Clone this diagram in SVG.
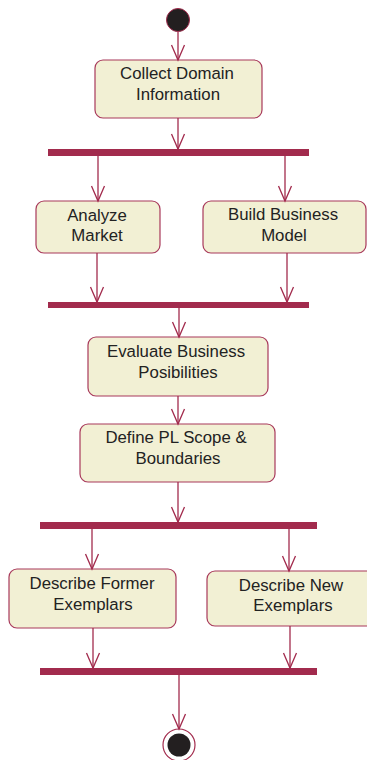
<svg xmlns="http://www.w3.org/2000/svg" width="367" height="760" viewBox="0 0 367 760">
<style>
.node rect{fill:#F2F0D4;stroke:#A8395B;stroke-width:1.2}
.node text{font-family:"Liberation Sans",Arial,sans-serif;font-size:16.8px;fill:#222;text-anchor:middle}
.bar{fill:#A22B4D}
.edge{stroke:#A22B4D;stroke-width:1.3;fill:none}
</style>
<defs>
<marker id="arr" markerUnits="userSpaceOnUse" markerWidth="18" markerHeight="16" refX="16" refY="7" orient="auto" viewBox="0 0 18 14">
<path d="M1,0.5 L16,7 L1,13.5" fill="none" stroke="#A22B4D" stroke-width="1.3"/>
</marker>
</defs>
<rect width="367" height="760" fill="#fff"/>
<g id="start"><circle cx="178" cy="20" r="11.5" fill="#231F20" stroke="#A22B4D" stroke-width="1"/></g>
<g id="collect" class="node"><rect x="95" y="60" width="167" height="58" rx="8"/><text x="177" y="79">Collect Domain</text><text x="178" y="100">Information</text></g>
<g id="fork1"><rect class="bar" x="48" y="149" width="261" height="7"/></g>
<g id="analyze" class="node"><rect x="36" y="201" width="124" height="52" rx="8"/><text x="97" y="221">Analyze</text><text x="97" y="241">Market</text></g>
<g id="build" class="node"><rect x="203" y="201" width="163" height="52" rx="8"/><text x="283" y="220">Build Business</text><text x="284" y="241">Model</text></g>
<g id="join1"><rect class="bar" x="48" y="302" width="261" height="6"/></g>
<g id="evaluate" class="node"><rect x="88" y="337" width="180" height="59" rx="8"/><text x="176" y="357">Evaluate Business</text><text x="178" y="378">Posibilities</text></g>
<g id="define" class="node"><rect x="80" y="424" width="195" height="58" rx="8"/><text x="176" y="443">Define PL Scope &amp;</text><text x="178" y="464">Boundaries</text></g>
<g id="fork2"><rect class="bar" x="40" y="522" width="277" height="7"/></g>
<g id="former" class="node"><rect x="9" y="569" width="167" height="59" rx="8"/><text x="92" y="589">Describe Former</text><text x="93" y="610">Exemplars</text></g>
<g id="new" class="node"><rect x="207" y="571" width="170" height="55" rx="8"/><text x="291" y="591">Describe New</text><text x="293" y="611">Exemplars</text></g>
<g id="join2"><rect class="bar" x="40" y="668" width="277" height="7"/></g>
<g id="end"><circle cx="179" cy="745" r="16" fill="#fff" stroke="#A22B4D" stroke-width="1.2"/><circle cx="179" cy="745" r="11.5" fill="#231F20"/></g>
<g id="connectors">
<line class="edge" x1="178" y1="32" x2="178" y2="60" marker-end="url(#arr)"/>
<line class="edge" x1="178" y1="118" x2="178" y2="149" marker-end="url(#arr)"/>
<line class="edge" x1="98" y1="156" x2="98" y2="201" marker-end="url(#arr)"/>
<line class="edge" x1="285" y1="156" x2="285" y2="201" marker-end="url(#arr)"/>
<line class="edge" x1="97" y1="253" x2="97" y2="302" marker-end="url(#arr)"/>
<line class="edge" x1="287" y1="253" x2="287" y2="302" marker-end="url(#arr)"/>
<line class="edge" x1="179" y1="308" x2="179" y2="337" marker-end="url(#arr)"/>
<line class="edge" x1="178" y1="396" x2="178" y2="424" marker-end="url(#arr)"/>
<line class="edge" x1="178" y1="482" x2="178" y2="522" marker-end="url(#arr)"/>
<line class="edge" x1="92" y1="529" x2="92" y2="569" marker-end="url(#arr)"/>
<line class="edge" x1="289" y1="529" x2="289" y2="571" marker-end="url(#arr)"/>
<line class="edge" x1="93" y1="628" x2="93" y2="668" marker-end="url(#arr)"/>
<line class="edge" x1="290" y1="626" x2="290" y2="668" marker-end="url(#arr)"/>
<line class="edge" x1="179" y1="675" x2="179" y2="729" marker-end="url(#arr)"/>
</g>
</svg>
